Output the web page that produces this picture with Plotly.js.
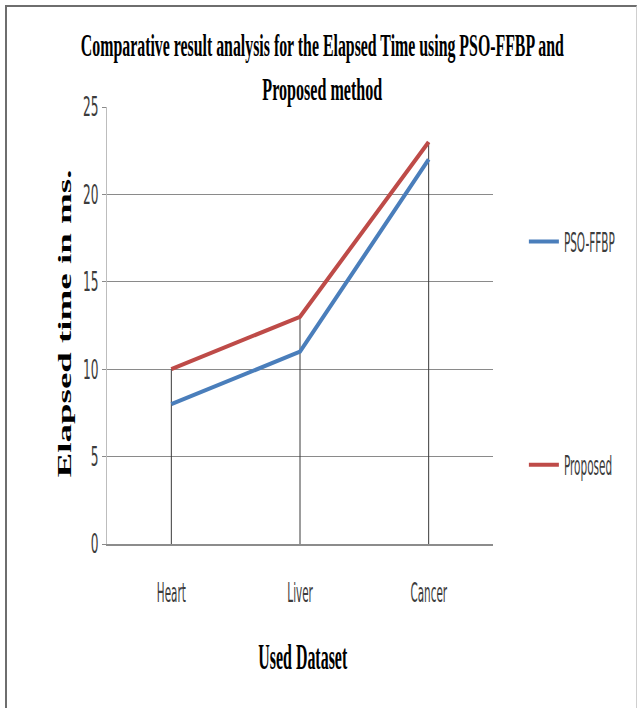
<!DOCTYPE html>
<html><head><meta charset="utf-8">
<script src="https://cdn.plot.ly/plotly-3.0.1.min.js"></script>
<style>
html,body{margin:0;padding:0;background:#fff;overflow:hidden}
#wrap{position:relative;width:638px;height:708px}
#frame{position:absolute;left:5px;top:5px;width:629px;height:720px;border-left:2px solid #6e6e6e;border-top:2px solid #6e6e6e;border-right:1px solid #cfcfcf;pointer-events:none}
</style></head><body>
<div id="wrap"><div id="chart"></div><div id="frame"></div></div>
<script>
// ---- data ----
const categories = ['Heart', 'Liver', 'Cancer'];
const psoFfbp = [8, 11, 22];
const proposed = [10, 13, 23];
const seriesNames = ['PSO-FFBP', 'Proposed'];
const yTickValues = [0, 5, 10, 15, 20, 25];
const titleLines = ['Comparative result analysis for the Elapsed Time using PSO-FFBP and', 'Proposed method'];
const xTitleText = 'Used Dataset';
const yTitleText = 'Elapsed time in ms.';

// ---- styles ----
const SERIF = 'Liberation Serif, DejaVu Serif, Times New Roman, serif';
const SANS = 'Liberation Sans Narrow, DejaVu Sans Condensed, Liberation Sans, Arial, sans-serif';
const BLUE = '#4a7ebb';
const RED = '#be4b48';

const traces = [
  {x: categories, y: psoFfbp, name: seriesNames[0], type: 'scatter', mode: 'lines',
   line: {color: BLUE, width: 4}, legendgroup: 'a', hoverinfo: 'skip'},
  {x: categories, y: proposed, name: seriesNames[1], type: 'scatter', mode: 'lines',
   line: {color: RED, width: 4}, legendgroup: 'b', hoverinfo: 'skip'}
];

// drop lines from the highest series value down to zero
const dropShapes = categories.map((c, i) => ({
  type: 'line', xref: 'x', yref: 'y', x0: c, x1: c, y0: 0,
  y1: Math.max(psoFfbp[i], proposed[i]),
  line: {color: '#3a3a3a', width: 1}, layer: 'between'
}));

const layout = {
  width: 638, height: 708,
  margin: {l: 107, r: 144.5, t: 107, b: 163.5, pad: 0, autoexpand: false},
  paper_bgcolor: '#fff', plot_bgcolor: '#fff',
  showlegend: true,
  xaxis: {
    type: 'category', range: [-0.5, 2.5], showgrid: false, zeroline: false,
    showline: true, linecolor: '#8c8c8c', linewidth: 2, ticks: '',
    ticklabelstandoff: 24,
    tickfont: {family: SANS, size: 27, color: '#3c3c3c'}
  },
  yaxis: {
    range: [0, 25], tickvals: yTickValues, showgrid: true, gridcolor: '#8a8a8a', gridwidth: 1,
    zeroline: false, showline: true, linecolor: '#bdbdbd', linewidth: 1,
    ticks: 'outside', ticklen: 4, tickcolor: '#8a8a8a', ticklabelstandoff: -2,
    tickfont: {family: SANS, size: 27, color: '#3c3c3c'}
  },
  legend: {
    x: 1.08, xanchor: 'left', y: 0.747, yanchor: 'top', tracegroupgap: 185,
    bgcolor: 'rgba(0,0,0,0)', font: {family: SANS, size: 27, color: '#3c3c3c'}
  },
  shapes: dropShapes,
  annotations: [
    {text: titleLines[0], xref: 'paper', yref: 'paper', x: 0.5, y: 1, xanchor: 'center', yanchor: 'middle',
     xshift: 22, yshift: 62, showarrow: false, font: {family: SERIF, size: 32, weight: 'bold', color: '#000'}},
    {text: titleLines[1], xref: 'paper', yref: 'paper', x: 0.5, y: 1, xanchor: 'center', yanchor: 'middle',
     xshift: 22, yshift: 18, showarrow: false, font: {family: SERIF, size: 32, weight: 'bold', color: '#000'}},
    {text: xTitleText, xref: 'paper', yref: 'paper', x: 0.5, y: 0, xanchor: 'center', yanchor: 'middle',
     xshift: 2, yshift: -113, showarrow: false, font: {family: SERIF, size: 36, weight: 'bold', color: '#000'}},
    {text: yTitleText, xref: 'paper', yref: 'paper', x: 0, y: 0.5, xanchor: 'center', yanchor: 'middle',
     xshift: -42, yshift: 2, textangle: -90, showarrow: false, font: {family: SERIF, size: 18, weight: 'bold', color: '#000'}}
  ]
};

const SVGNS = 'http://www.w3.org/2000/svg';

// scale text horizontally (along its own direction) with a wrapper group,
// so the drawn glyphs and their bounding boxes are narrowed together
function squeeze(nodes, refNode, target, origin) {
  if (!refNode) return;
  const f = target / refNode.getComputedTextLength();
  nodes.forEach(n => {
    const w = n.getComputedTextLength();
    const g = document.createElementNS(SVGNS, 'g');
    n.parentNode.insertBefore(g, n);
    g.appendChild(n);
    g.style.transformBox = 'fill-box';
    g.style.transformOrigin = origin + ' center';
    g.style.transform = 'scaleX(' + f.toFixed(4) + ')';
    // shrink an annotation's background box to the new text width
    const bg = g.parentNode.querySelector(':scope > rect.bg');
    if (bg && n.classList.contains('annotation-text')) {
      const nw = w * f;
      const bw = parseFloat(bg.getAttribute('width'));
      const bx = parseFloat(bg.getAttribute('x') || 0);
      const d = bw - (nw + 4);
      if (d > 0) {
        bg.setAttribute('x', (bx + d / 2).toFixed(2));
        bg.setAttribute('width', (nw + 4).toFixed(2));
      }
    }
  });
}

Plotly.newPlot('chart', traces, layout, {displayModeBar: false, staticPlot: true}).then(gd => {
  const ann = Array.from(gd.querySelectorAll('.annotation-text'));
  squeeze([ann[0]], ann[0], 483, 'center');
  squeeze([ann[1]], ann[1], 120, 'center');
  squeeze([ann[2]], ann[2], 89, 'center');
  squeeze([ann[3]], ann[3], 308, 'center');
  const yt = Array.from(gd.querySelectorAll('g.ytick text'));
  const y25 = yt.find(t => t.textContent === '25');
  squeeze(yt, y25, 15.5, 'right');
  const xt = Array.from(gd.querySelectorAll('g.xtick text'));
  squeeze(xt, xt[0], 29, 'center');
  const lt = Array.from(gd.querySelectorAll('.legendtext'));
  squeeze(lt, lt[0], 51, 'left');
});
</script>
</body></html>
